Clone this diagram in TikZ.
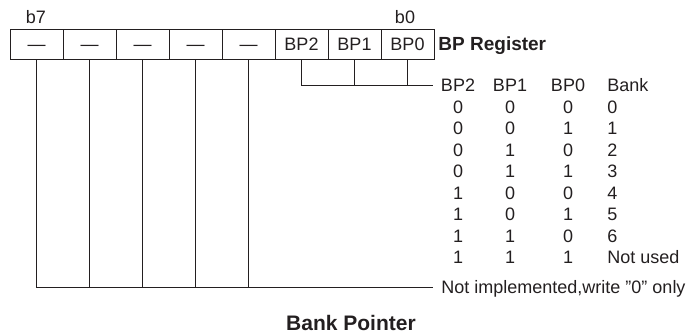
\documentclass[tikz,border=0pt]{standalone}
\usepackage{fontspec}
\setmainfont{Liberation Sans}
\definecolor{ink}{HTML}{231F20}
\begin{document}
\begin{tikzpicture}[x=1pt,y=-1pt,line width=0.9pt,draw=ink,text=ink,
  cell/.style={draw,rectangle,minimum width=53pt,minimum height=30pt,inner sep=0pt,
    text height=12.9pt,text depth=0pt,font=\fontsize{18}{21}\selectfont},
  txt/.style={inner sep=0pt,text height=12.9pt,text depth=0pt,font=\fontsize{18}{21}\selectfont},
  regtitle/.style={inner sep=0pt,text height=13.6pt,text depth=0pt,font=\fontsize{19}{22}\selectfont\bfseries},
  figtitle/.style={inner sep=0pt,text height=15pt,text depth=0pt,font=\fontsize{21}{24}\selectfont\bfseries}]
\useasboundingbox (0,0) rectangle (696,334);
% register cells
\node[cell] (c7) at (36.5,44) {—};
\node[cell] (c6) at (89.5,44) {—};
\node[cell] (c5) at (142.5,44) {—};
\node[cell] (c4) at (195.5,44) {—};
\node[cell] (c3) at (248.5,44) {—};
\node[cell] (c2) at (301.5,44) {BP2};
\node[cell] (c1) at (354.5,44) {BP1};
\node[cell] (c0) at (407.5,44) {BP0};
\node[txt] (b7) at (36,17) {b7};
\node[txt] (b0) at (405,17) {b0};
\node[regtitle,anchor=west] (reg) at (438,43.5) {BP Register};
% table
\node[txt] (h2) at (458,85) {BP2};
\node[txt] (h1) at (510,85) {BP1};
\node[txt] (h0) at (568,85) {BP0};
\node[txt,anchor=west] (hb) at (607,85) {Bank};
\foreach \a/\b/\c/\d [count=\i from 0] in {0/0/0/0,0/0/1/1,0/1/0/2,0/1/1/3,1/0/0/4,1/0/1/5,1/1/0/6,1/1/1/Not used}{
  \node[txt] (r\i-2) at (458,107+21.43*\i) {\a};
  \node[txt] (r\i-1) at (510,107+21.43*\i) {\b};
  \node[txt] (r\i-0) at (568,107+21.43*\i) {\c};
  \node[txt,anchor=west] (r\i-b) at (607,107+21.43*\i) {\d};
}
\node[txt,anchor=west] (ni) at (441,287.5) {Not implemented,write \char34 0\char34\ only};
\node[figtitle] (title) at (351,322.8) {Bank Pointer};
% connectors
\draw (c2.south) |- ([xshift=-8pt]h2.west);
\draw (c1.south) -- (c1.south |- h2.west);
\draw (c0.south) -- (c0.south |- h2.west);
\draw (c7.south) |- ([xshift=-8pt]ni.west);
\draw (c6.south) -- (c6.south |- ni.west);
\draw (c5.south) -- (c5.south |- ni.west);
\draw (c4.south) -- (c4.south |- ni.west);
\draw (c3.south) -- (c3.south |- ni.west);
\end{tikzpicture}
\end{document}
